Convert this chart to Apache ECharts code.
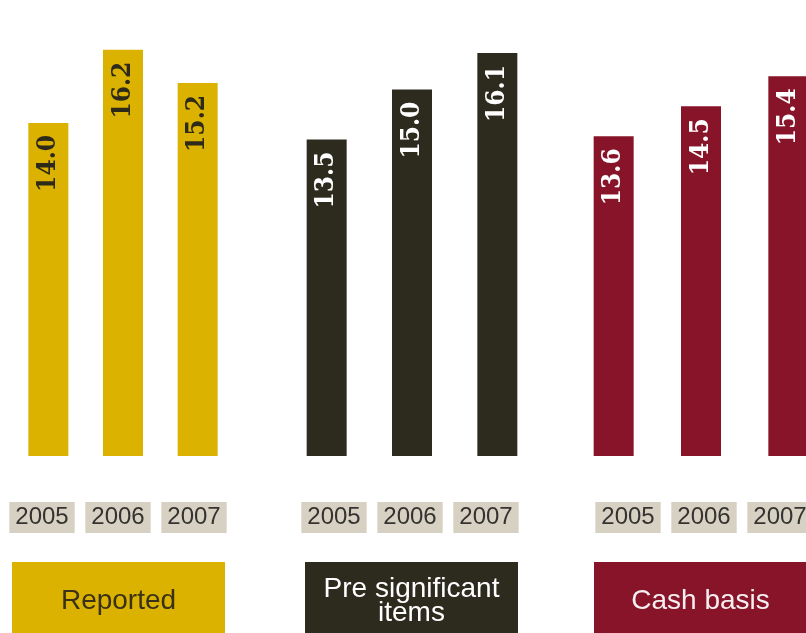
<!DOCTYPE html>
<html>
<head>
<meta charset="utf-8">
<script src="https://cdn.jsdelivr.net/npm/echarts@6/dist/echarts.min.js"></script>
<style>
  html, body { margin: 0; padding: 0; background: #fff; }
  #chart { width: 806px; height: 633px; }
</style>
</head>
<body>
<div id="chart"></div>
<script>
const years = ['2005', '2006', '2007'];
const groupNames = ['Reported', 'Pre significant\nitems', 'Cash basis'];
const reported = [14.0, 16.2, 15.2];
const preSignificant = [13.5, 15.0, 16.1];
const cashBasis = [13.6, 14.5, 15.4];

const groupValues = [reported, preSignificant, cashBasis];
const barColors = ['#dcb200', '#2d2a1e', '#871428'];
const labelColors = ['#2e2a1a', '#ffffff', '#ffffff'];
const nameColors = ['#3a3218', '#ffffff', '#f6eef0'];
// bar panels, then narrower panels that only carry the year tags
const panels = [
  { left: 11, width: 224, tagLeft: 4, boxLeft: 12 },
  { left: 284, width: 256, tagLeft: 296, boxLeft: 305 },
  { left: 570, width: 262, tagLeft: 590, boxLeft: 594 },
];

const chart = echarts.init(document.getElementById('chart'));

const gridBase = { top: 23, bottom: 177, outerBoundsMode: 'none', containLabel: false };

const option = {
  backgroundColor: '#ffffff',
  animation: false,
  grid: [
    ...panels.map((p) => ({ ...gridBase, left: p.left, width: p.width })),
    ...panels.map((p) => ({ ...gridBase, left: p.tagLeft, width: 228 })),
  ],
  xAxis: [
    ...panels.map((p, i) => ({
      type: 'category',
      gridIndex: i,
      data: years,
      axisLine: { show: false },
      axisTick: { show: false },
      axisLabel: { show: false },
    })),
    ...panels.map((p, i) => ({
      type: 'category',
      gridIndex: panels.length + i,
      data: years,
      axisLine: { show: false },
      axisTick: { show: false },
      axisLabel: {
        margin: 46,
        fontFamily: 'Liberation Sans',
        fontSize: 24,
        color: '#353330',
        backgroundColor: '#d7d1c3',
        padding: [3, 6, 3, 6],
        lineHeight: 25,
      },
    })),
  ],
  yAxis: [...panels, ...panels].map((p, i) => ({
    type: 'value',
    gridIndex: i,
    min: 4,
    max: 17,
    show: false,
  })),
  graphic: panels.map((p, i) => ({
    type: 'group',
    left: p.boxLeft,
    top: 562,
    children: [
      {
        type: 'rect',
        shape: { x: 0, y: 0, width: 213, height: 80 },
        style: { fill: barColors[i] },
      },
      {
        type: 'text',
        style: {
          x: 106.5,
          y: 39,
          text: groupNames[i],
          fill: nameColors[i],
          font: '28px "Liberation Sans"',
          textAlign: 'center',
          textVerticalAlign: 'middle',
          lineHeight: 24,
        },
      },
    ],
  })),
  series: groupValues.map((vals, i) => ({
    type: 'bar',
    xAxisIndex: i,
    yAxisIndex: i,
    data: vals,
    barWidth: 40,
    itemStyle: { color: barColors[i] },
    label: {
      show: true,
      position: 'insideTop',
      distance: 12,
      rotate: 90,
      align: 'right',
      verticalAlign: 'middle',
      fontFamily: '"DejaVu Serif Condensed", "DejaVu Serif"',
      fontWeight: 'bold',
      fontSize: 26,
      color: labelColors[i],
      formatter: (p) => p.value.toFixed(1),
    },
  })),
};

chart.setOption(option);
</script>
</body>
</html>
